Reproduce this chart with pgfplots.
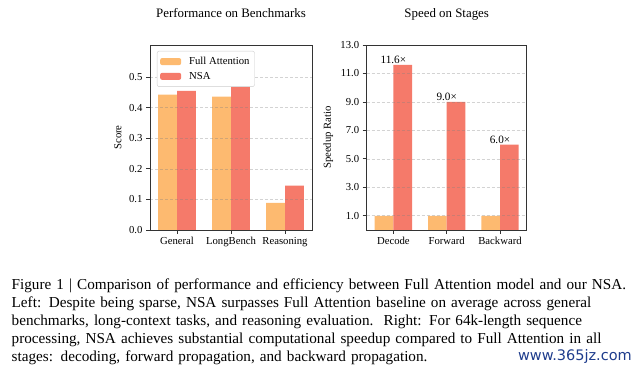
\documentclass[border=0pt]{standalone}
\usepackage{fontspec}
\setmainfont{Liberation Serif}
\newfontfamily\capfont{Liberation Serif}
\newfontfamily\wmfont{DejaVu Sans}
\usepackage{pgfplots}
\pgfplotsset{compat=1.18}
\definecolor{fa}{RGB}{253,186,112}
\definecolor{nsa}{RGB}{245,122,106}
\definecolor{wm}{RGB}{30,60,140}
\newcommand{\tk}{\fontsize{10.7}{12.5}\selectfont}
\begin{document}
\begin{tikzpicture}
\useasboundingbox (0,0) rectangle (640pt,372pt);
\pgfplotsset{
  common/.style={
    scale only axis, anchor=south west, height=185pt,
    xmin=-0.5, xmax=2.5, xtick={0,1,2},
    tick align=outside, xtick pos=bottom, ytick pos=left,
    major tick length=4pt,
    axis line style={black!80, line width=0.8pt},
    every tick/.style={black!80, line width=0.8pt},
    ymajorgrids, grid style={dashed, dash pattern=on 3pt off 2pt, gray, opacity=0.35, line width=0.6pt},
    axis on top,
    tick label style={font=\tk},
    label style={font=\tk},
    title style={font=\fontsize{12.9}{15}\selectfont, at={(0.5,1)}, anchor=base, yshift=21.5pt},
    /pgf/number format/assume math mode=true,
    yticklabel style={/pgf/number format/.cd, fixed, fixed zerofill, precision=1},
  }
}
\begin{axis}[common, at={(150pt,142pt)}, width=162pt,
  title={Performance on Benchmarks},
  ylabel={Score}, ylabel style={at={(axis description cs:-0.198,0.5)}, anchor=center},
  ymin=0, ymax=0.605, ytick={0,0.1,0.2,0.3,0.4,0.5},
  xticklabels={General,LongBench,Reasoning},
  legend style={at={(0.043,0.968)}, anchor=north west, draw=black!20, rounded corners=2pt,
    fill=white, font=\tk, row sep=2pt, inner xsep=3pt, inner ysep=4pt},
  legend cell align=left]
\addplot[ybar, bar width=0.35, bar shift=-0.175, fill=fa, draw=none,
  legend image code/.code={\fill[fill=fa] (0pt,-3.5pt) rectangle (21pt,3.5pt); \path (27pt,0pt);}]
  coordinates {(0,0.443) (1,0.436) (2,0.089)};
\addlegendentry{Full Attention}
\addplot[ybar, bar width=0.35, bar shift=0.175, fill=nsa, draw=none,
  legend image code/.code={\fill[fill=nsa] (0pt,-3.5pt) rectangle (21pt,3.5pt); \path (27pt,0pt);}]
  coordinates {(0,0.455) (1,0.468) (2,0.145)};
\addlegendentry{NSA}
\end{axis}
\begin{axis}[common, at={(366.7pt,142pt)}, width=160pt,
  title={Speed on Stages},
  ylabel={Speedup Ratio}, ylabel style={at={(axis description cs:-0.24,0.5)}, anchor=center},
  ymin=0, ymax=13, ytick={1,3,5,7,9,11,13},
  xticklabels={Decode,Forward,Backward}]
\addplot[ybar, bar width=0.35, bar shift=-0.175, fill=fa, draw=none]
  coordinates {(0,1.0) (1,1.0) (2,1.0)};
\addplot[ybar, bar width=0.35, bar shift=0.175, fill=nsa, draw=none,
  point meta=explicit symbolic, nodes near coords,
  nodes near coords style={font=\fontsize{11.2}{13}\selectfont, inner sep=1.2pt, anchor=south, text=black}]
  coordinates {(0,11.6) [11.6×] (1,9.0) [9.0×] (2,6.0) [6.0×]};
\end{axis}
\node[anchor=base west, inner sep=0pt, text width=620pt, align=left,
  font=\capfont\fontsize{15.2}{18}\selectfont] at (11.5pt,82.7pt) {%
\makebox[620pt][s]{Figure 1 | Comparison of performance and efficiency between Full Attention model and our NSA.}\\
\makebox[620pt][s]{Left: Despite being sparse, NSA surpasses Full Attention baseline on average across general}\\
\makebox[620pt][s]{benchmarks, long-context tasks, and reasoning evaluation.\ \ Right: For 64k-length sequence}\\
\makebox[620pt][s]{processing, NSA achieves substantial computational speedup compared to Full Attention in all}\\
stages: decoding, forward propagation, and backward propagation.};
\node[anchor=base east, inner sep=0pt, text=wm, font=\wmfont\fontsize{14.5}{16}\selectfont] at (632pt,11pt) {www.365jz.com};
\end{tikzpicture}
\end{document}
